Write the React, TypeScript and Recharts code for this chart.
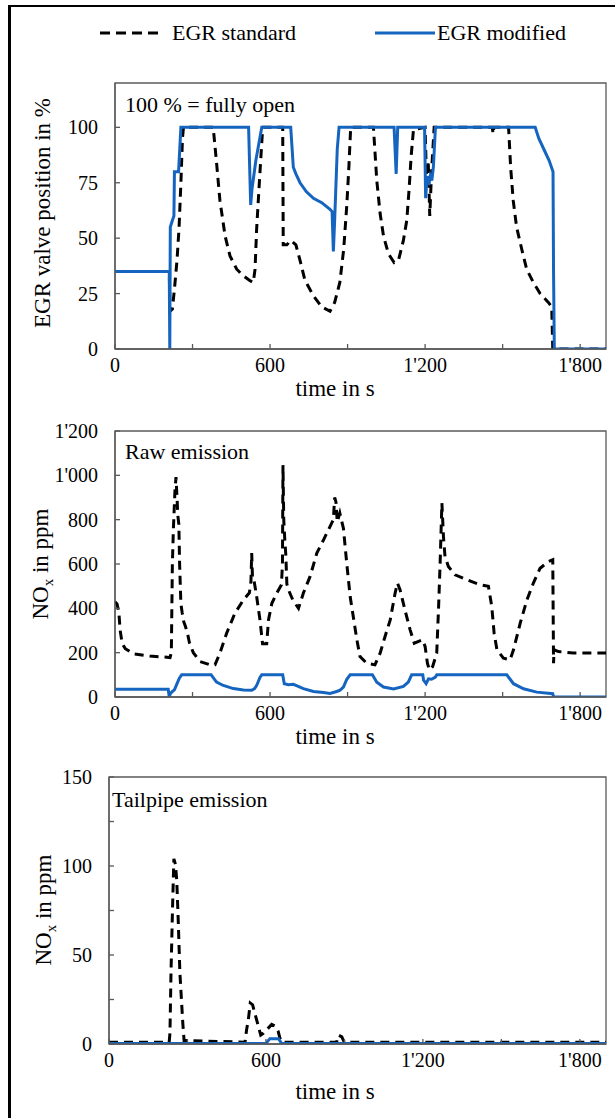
import React from 'react';
import { LineChart, Line, XAxis, YAxis, ReferenceArea } from 'recharts';

// time in s, value
const valveStd: [number, number][] = [
  [0, 35], [210, 35], [213, 17], [222, 18], [230, 27], [240, 40], [248, 55], [255, 75], [261, 95], [265, 100],
  [380, 100], [393, 84], [406, 67], [426, 51], [445, 42], [471, 36], [497, 33], [520, 31], [535, 30],
  [542, 36], [548, 54], [559, 76], [570, 97], [574, 100], [649, 100], [651, 47], [665, 47], [680, 49],
  [700, 47], [716, 40], [735, 31], [768, 24], [800, 19], [832, 17], [850, 21], [870, 30], [885, 45],
  [897, 65], [905, 82], [912, 100], [1000, 100], [1013, 76], [1026, 61], [1039, 51], [1058, 43],
  [1080, 39], [1097, 40], [1116, 49], [1129, 58], [1138, 72], [1146, 87], [1155, 99], [1200, 100],
  [1205, 78], [1212, 85], [1218, 60], [1225, 80], [1235, 100], [1460, 100], [1463, 97], [1466, 100],
  [1523, 100], [1531, 82], [1541, 67], [1554, 55], [1574, 45], [1593, 36], [1619, 30], [1645, 25],
  [1677, 21], [1690, 19], [1694, 0], [1900, 0],
];

const valveMod: [number, number][] = [
  [0, 35], [210, 35], [212, 0], [214, 55], [222, 58], [228, 60], [230, 80], [246, 80], [255, 100],
  [517, 100], [525, 65], [530, 72], [545, 85], [568, 100], [680, 100], [690, 82], [700, 79], [716, 75],
  [740, 71], [768, 68], [800, 66], [832, 63], [840, 62], [845, 44], [850, 58], [860, 90], [867, 100],
  [1080, 100], [1088, 79], [1094, 100], [1198, 100], [1202, 68], [1208, 78], [1214, 74], [1220, 78],
  [1226, 76], [1232, 82], [1240, 100], [1626, 100], [1640, 95], [1660, 90], [1680, 85], [1695, 80],
  [1697, 35], [1700, 0], [1900, 0],
];

const rawStd: [number, number][] = [
  [0, 430], [8, 420], [15, 380], [20, 300], [28, 240], [40, 218], [70, 195], [135, 185], [213, 178],
  [218, 200], [222, 600], [226, 760], [232, 930], [236, 992], [240, 900], [243, 820], [247, 780],
  [250, 600], [255, 420], [260, 380], [266, 340], [272, 320], [280, 290], [288, 245], [303, 200],
  [329, 160], [368, 145], [387, 145], [406, 198], [432, 288], [464, 378], [497, 438], [520, 470],
  [526, 520], [529, 649], [532, 540], [536, 540], [548, 454], [561, 348], [571, 240], [587, 240],
  [594, 348], [607, 423], [626, 469], [644, 506], [648, 600], [650, 1046], [653, 800], [657, 710],
  [661, 640], [665, 510], [671, 484], [688, 438], [710, 400], [729, 469], [755, 544], [781, 649],
  [807, 709], [832, 769], [845, 800], [850, 900], [855, 880], [860, 790], [870, 830], [884, 760],
  [897, 600], [910, 453], [920, 378], [936, 258], [948, 183], [974, 152], [1006, 145], [1026, 198],
  [1045, 273], [1065, 348], [1084, 469], [1093, 514], [1103, 484], [1122, 393], [1142, 303],
  [1158, 243], [1190, 258], [1200, 228], [1209, 152], [1217, 122], [1229, 137], [1245, 198],
  [1252, 400], [1258, 600], [1265, 875], [1271, 724], [1277, 634], [1290, 589], [1316, 551],
  [1361, 529], [1413, 506], [1445, 499], [1458, 408], [1467, 288], [1478, 213], [1503, 175],
  [1529, 168], [1542, 213], [1568, 333], [1594, 438], [1619, 514], [1645, 581], [1677, 611],
  [1694, 619], [1697, 152], [1699, 213], [1716, 205], [1774, 198], [1900, 198],
];

const rawMod: [number, number][] = [
  [0, 35], [206, 35], [210, 0], [214, 15], [222, 25], [230, 32], [240, 60], [249, 85], [258, 100],
  [372, 100], [385, 80], [393, 67], [419, 52], [458, 38], [497, 32], [529, 30], [540, 38], [548, 52],
  [561, 88], [568, 100], [649, 100], [655, 60], [671, 55], [690, 57], [700, 52], [729, 38], [768, 25],
  [807, 20], [832, 16], [858, 25], [871, 31], [884, 45], [897, 80], [910, 100], [996, 100],
  [1013, 67], [1039, 45], [1078, 36], [1116, 48], [1135, 67], [1148, 100], [1191, 100], [1194, 76],
  [1204, 60], [1213, 82], [1225, 80], [1240, 90], [1245, 100], [1516, 100], [1529, 80], [1542, 60],
  [1581, 37], [1632, 22], [1694, 15], [1697, 0], [1900, 0],
];

const tailStd: [number, number][] = [
  [0, 1], [230, 1], [233, 6], [237, 40], [243, 77], [248, 104], [254, 101], [259, 92], [265, 68],
  [271, 40], [282, 12], [287, 2], [520, 1], [526, 8], [533, 14], [540, 23], [549, 22], [558, 17],
  [571, 10], [580, 5], [590, 6], [603, 8], [622, 11], [635, 10], [647, 7], [654, 3], [660, 1],
  [870, 1], [877, 5], [890, 4], [896, 2], [900, 1], [1900, 1],
];

const tailMod: [number, number][] = [
  [0, 0.3], [600, 0.3], [615, 3], [648, 3], [660, 0.3], [1900, 0.3],
];

const xTicks = [0, 300, 600, 900, 1200, 1500, 1800];
const valveTicks = [0, 25, 50, 75, 100];
const rawTicks = [0, 100, 200, 300, 400, 500, 600, 700, 800, 900, 1000, 1100, 1200];
const tailTicks = [0, 25, 50, 75, 100, 125, 150];

const BLUE = '#1565c0';
const AXIS = '#595959';
const FONT = 'Liberation Serif, DejaVu Serif, serif';

const toRows = (pts: [number, number][]) => pts.map(([t, v]) => ({ t, v }));

const fmt = (n: number) =>
  n >= 1000 ? `${Math.floor(n / 1000)}'${String(n % 1000).padStart(3, '0')}` : String(n);

const XTick = (props: any) => {
  const { x, y, payload } = props;
  if (payload.value % 600 !== 0) return <g />;
  return (
    <text x={x} y={y} dy="0.71em" textAnchor="middle" style={{ fontFamily: FONT, fontSize: 20 }} fill="#000">
      {fmt(payload.value)}
    </text>
  );
};

const makeYTick = (every: number) => (props: any) => {
  const { x, y, payload } = props;
  if (payload.value % every !== 0) return <g />;
  return (
    <text x={x} y={y} dy="0.35em" textAnchor="end" style={{ fontFamily: FONT, fontSize: 20 }} fill="#000">
      {fmt(payload.value)}
    </text>
  );
};

interface PanelProps {
  plotLeft: number;
  plotTop: number;
  plotH: number;
  yMax: number;
  yTicks: number[];
  labelEvery: number;
  std: [number, number][];
  mod: [number, number][];
}

const Panel: React.FC<PanelProps> = ({ plotLeft, plotTop, plotH, yMax, yTicks, labelEvery, std, mod }) => {
  const YTick = makeYTick(labelEvery);
  return (
    <div style={{ position: 'absolute', left: 0, top: plotTop - 20 }}>
      <LineChart width={615} height={plotH + 80} margin={{ top: 20, right: 9, left: 0, bottom: 0 }}>
        <XAxis
          dataKey="t"
          type="number"
          domain={[0, 1900]}
          ticks={xTicks}
          allowDataOverflow
          height={60}
          tickSize={-5}
          tickMargin={14}
          tick={<XTick />}
          axisLine={{ stroke: AXIS, strokeWidth: 1.3 }}
          tickLine={{ stroke: AXIS, strokeWidth: 1.3 }}
        />
        <YAxis
          dataKey="v"
          type="number"
          domain={[0, yMax]}
          ticks={yTicks}
          allowDataOverflow
          width={plotLeft}
          tickSize={-5}
          tickMargin={22}
          tick={<YTick />}
          axisLine={{ stroke: AXIS, strokeWidth: 1.3 }}
          tickLine={{ stroke: AXIS, strokeWidth: 1.3 }}
        />
        <ReferenceArea x1={0} x2={1900} y1={0} y2={yMax} fill="none" stroke={AXIS} strokeWidth={1.3} ifOverflow="visible" />
        <Line
          data={toRows(std)}
          dataKey="v"
          type="linear"
          stroke="#000"
          strokeWidth={3}
          strokeDasharray="9 6"
          dot={false}
          isAnimationActive={false}
        />
        <Line
          data={toRows(mod)}
          dataKey="v"
          type="linear"
          stroke={BLUE}
          strokeWidth={3}
          dot={false}
          isAnimationActive={false}
        />
      </LineChart>
    </div>
  );
};

const txt = (size: number) => ({ style: { fontFamily: FONT, fontSize: size }, fill: '#000' });

export default function App() {
  return (
    <div style={{ position: 'fixed', left: 0, top: 0, width: 615, height: 1118, background: '#fff', overflow: 'hidden', fontFamily: FONT }}>
      <div style={{ position: 'absolute', left: 8, top: 5, width: 700, height: 1200, borderLeft: '3px solid #000', borderTop: '2px solid #000' }} />

      <Panel plotLeft={115} plotTop={83} plotH={266} yMax={120} yTicks={valveTicks} labelEvery={25} std={valveStd} mod={valveMod} />
      <Panel plotLeft={115} plotTop={431} plotH={266} yMax={1200} yTicks={rawTicks} labelEvery={200} std={rawStd} mod={rawMod} />
      <Panel plotLeft={109} plotTop={777} plotH={267} yMax={150} yTicks={tailTicks} labelEvery={50} std={tailStd} mod={tailMod} />

      <svg width={615} height={1118} style={{ position: 'absolute', left: 0, top: 0, pointerEvents: 'none' }}>
        {/* legend */}
        <line x1={100} y1={33} x2={160} y2={33} stroke="#000" strokeWidth={3} strokeDasharray="10 6" />
        <text x={172} y={40} {...txt(22)}>EGR standard</text>
        <line x1={375} y1={33} x2={435} y2={33} stroke={BLUE} strokeWidth={3} />
        <text x={437} y={40} {...txt(22)}>EGR modified</text>

        {/* notes */}
        <text x={125} y={112} {...txt(22)}>100 % = fully open</text>
        <text x={125} y={459} {...txt(22)}>Raw emission</text>
        <text x={112} y={807} {...txt(22)}>Tailpipe emission</text>

        {/* axis titles */}
        <text x={335} y={396} textAnchor="middle" {...txt(23)}>time in s</text>
        <text x={335} y={744} textAnchor="middle" {...txt(23)}>time in s</text>
        <text x={335} y={1099} textAnchor="middle" {...txt(23)}>time in s</text>

        <text transform="translate(50,213) rotate(-90)" textAnchor="middle" {...txt(23)}>EGR valve position in %</text>
        <text transform="translate(48,564) rotate(-90)" textAnchor="middle" {...txt(23)}>
          NO<tspan style={{ fontSize: 15 }} dy={5}>x</tspan><tspan dy={-5}> in ppm</tspan>
        </text>
        <text transform="translate(51,910) rotate(-90)" textAnchor="middle" {...txt(23)}>
          NO<tspan style={{ fontSize: 15 }} dy={5}>x</tspan><tspan dy={-5}> in ppm</tspan>
        </text>
      </svg>
    </div>
  );
}
